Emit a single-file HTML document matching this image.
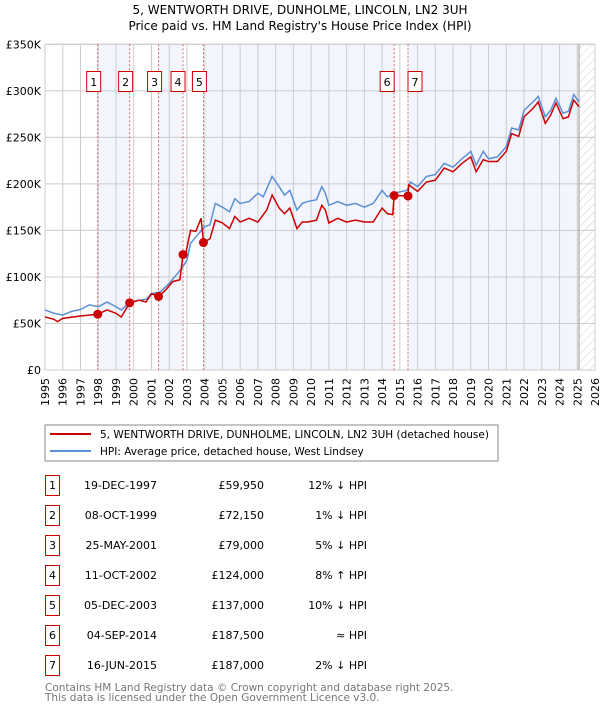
<!DOCTYPE html>
<html><head><meta charset="utf-8"><style>
body{margin:0;background:#fff;width:600px;height:710px;overflow:hidden;font-family:"DejaVu Sans","Liberation Sans",sans-serif}
svg text{font-family:"DejaVu Sans","Liberation Sans",sans-serif}
</style></head><body>
<svg id="c" width="600" height="710">
<defs><pattern id="hatch" width="6" height="6" patternUnits="userSpaceOnUse" patternTransform="rotate(45)"><line x1="0" y1="0" x2="0" y2="6" stroke="#ccc" stroke-width="1"/></pattern></defs>
<text x="300" y="14" text-anchor="middle" font-size="12">5, WENTWORTH DRIVE, DUNHOLME, LINCOLN, LN2 3UH</text>
<text x="300" y="30" text-anchor="middle" font-size="12">Price paid vs. HM Land Registry's House Price Index (HPI)</text>
<g id="plot"></g>
<rect x="45" y="425" width="453" height="36" fill="#fff" stroke="#888"/>
<line x1="50" y1="434" x2="91" y2="434" stroke="#cc0000" stroke-width="2"/>
<text x="100" y="438" font-size="10.5">5, WENTWORTH DRIVE, DUNHOLME, LINCOLN, LN2 3UH (detached house)</text>
<line x1="50" y1="451" x2="91" y2="451" stroke="#5b8fd6" stroke-width="2"/>
<text x="100" y="455" font-size="10.5">HPI: Average price, detached house, West Lindsey</text>
<g id="table"></g>
<text x="45" y="691" font-size="10.5" fill="#777">Contains HM Land Registry data © Crown copyright and database right 2025.</text>
<text x="45" y="701" font-size="10.5" fill="#777">This data is licensed under the Open Government Licence v3.0.</text>
</svg>
<script>
const yTicks=[0,50,100,150,200,250,300,350];
const yTickLabels=["£0","£50K","£100K","£150K","£200K","£250K","£300K","£350K"];
const years=[1995,1996,1997,1998,1999,2000,2001,2002,2003,2004,2005,2006,2007,2008,2009,2010,2011,2012,2013,2014,2015,2016,2017,2018,2019,2020,2021,2022,2023,2024,2025,2026];
const hpiT=[1995,1995.5,1996,1996.5,1997,1997.5,1998,1998.5,1999,1999.3,1999.8,2000.3,2000.7,2001,2001.5,2002,2002.3,2002.7,2003,2003.2,2003.5,2004,2004.3,2004.6,2005,2005.4,2005.7,2006,2006.5,2007,2007.3,2007.8,2008.2,2008.5,2008.8,2009.2,2009.5,2009.8,2010.3,2010.6,2010.8,2011,2011.5,2012,2012.5,2013,2013.5,2014,2014.3,2014.68,2015.4,2015.6,2016,2016.5,2017,2017.5,2018,2018.5,2019,2019.3,2019.7,2020,2020.5,2021,2021.3,2021.7,2022,2022.5,2022.8,2023.2,2023.5,2023.8,2024.2,2024.5,2024.8,2025.1];
const hpiV=[64.5,61,59,63,65,70,68,73,68,64.5,73,75,76,82,84,93,100,109,118,136,143,154,156,179,175,170,184,179,181,190,186,208,197,188,193,172,179,181,183,197,190,177,181,177,179,175,179,193,186,190,193,202,197,208,210,222,218,227,235,220,235,227,229,240,260,258,279,288,294,272,279,292,276,278,296,288];
const ppT=[1995,1995.5,1995.7,1996,1997,1997.5,1997.97,1998.5,1999,1999.3,1999.77,2000.3,2000.7,2001,2001.4,2001.8,2002.2,2002.6,2002.78,2002.9,2003.2,2003.5,2003.8,2003.93,2004.3,2004.6,2005,2005.4,2005.7,2006,2006.5,2007,2007.5,2007.8,2008.2,2008.5,2008.8,2009.2,2009.5,2009.8,2010.3,2010.6,2010.8,2011,2011.5,2012,2012.5,2013,2013.5,2014,2014.3,2014.6,2014.68,2015.46,2015.5,2016,2016.5,2017,2017.5,2018,2018.5,2019,2019.3,2019.7,2020,2020.5,2021,2021.3,2021.7,2022,2022.5,2022.8,2023.2,2023.5,2023.8,2024.2,2024.5,2024.8,2025.1];
const ppV=[57,54.5,52,55.5,58,59,60,64.5,61,57,72,75,73,82,79,86,95,97,124,122,150,149,163,137,141,161,158,152,165,159,163,159,172,188,174,168,174,152,159,159,161,177,172,158,163,159,161,159,159,174,168,167,187.5,187,199,192,202,204,217,213,222,229,213,226,224,224,235,254,251,272,281,288,265,274,287,270,272,290,283];
const saleT=[1997.97,1999.77,2001.4,2002.78,2003.93,2014.68,2015.46];
const saleV=[59.95,72.15,79,124,137,187.5,187];
const saleDates=["19-DEC-1997","08-OCT-1999","25-MAY-2001","11-OCT-2002","05-DEC-2003","04-SEP-2014","16-JUN-2015"];
const salePrices=["£59,950","£72,150","£79,000","£124,000","£137,000","£187,500","£187,000"];
const saleHpi=["12% ↓ HPI","1% ↓ HPI","5% ↓ HPI","8% ↑ HPI","10% ↓ HPI","≈ HPI","2% ↓ HPI"];
const dataEnd=2025.1;

const X0=45,X1=595,Y0=370,Y1=44.3;
const x=t=>X0+(t-1995)/(2026-1995)*(X1-X0);
const y=v=>Y0-v/350*(Y0-Y1);
const NS="http://www.w3.org/2000/svg";
const plot=document.getElementById('plot');
function mk(tag,attrs,parent){const e=document.createElementNS(NS,tag);for(const k in attrs)e.setAttribute(k,attrs[k]);(parent||plot).appendChild(e);return e;}

// shaded bands between alternate sales
const bands=[[saleT[0],saleT[1]],[saleT[2],saleT[3]],[saleT[4],saleT[5]],[saleT[6],dataEnd]];
bands.forEach(b=>{const r=mk('rect',{x:x(b[0]),y:Y1,width:x(b[1])-x(b[0]),height:Y0-Y1,fill:'#f2f5fd'});

});
const h=mk('rect',{x:x(dataEnd),y:Y1,width:X1-x(dataEnd),height:Y0-Y1,fill:'url(#hatch)'});


// grid
years.forEach(yr=>{const l=mk('line',{x1:x(yr),x2:x(yr),y1:Y1,y2:Y0,stroke:'#ccc','stroke-width':1});


const t=mk('text',{transform:`translate(${x(yr)+4},378) rotate(-90)`,'text-anchor':'end','font-size':11});
t.textContent=yr;

});
yTicks.forEach((v,i)=>{const l=mk('line',{x1:X0,x2:X1,y1:y(v),y2:y(v),stroke:'#ccc','stroke-width':1});


const t=mk('text',{x:41,y:y(v)+4,'text-anchor':'end','font-size':11});
t.textContent=yTickLabels[i];

});
const fr=mk('rect',{x:X0,y:Y1,width:X1-X0,height:Y0-Y1,fill:'none',stroke:'#ccc'});


const el=mk('line',{x1:x(dataEnd),x2:x(dataEnd),y1:Y1,y2:Y0,stroke:'#999','stroke-width':1});


// sale vlines + labels
saleT.forEach((t,i)=>{const l=mk('line',{x1:x(t),x2:x(t),y1:Y1,y2:Y0,stroke:'#e06666','stroke-width':1,'stroke-dasharray':'2,2'});

});
const lblX=[x(saleT[0])-4,x(saleT[1])-4,x(saleT[2])-4,x(saleT[3])-5,x(saleT[4])-4,x(saleT[5])-7,x(saleT[6])+7];
saleT.forEach((t,i)=>{const g=mk('g',{});


mk('rect',{x:lblX[i]-7,y:71.5,width:14,height:20,fill:'#fff',stroke:'#cc0000'},g);
const tx=mk('text',{x:lblX[i],y:86,'text-anchor':'middle','font-size':11},g);tx.textContent=i+1;});
// lines
const hp=mk('polyline',{points:hpiT.map((t,i)=>x(t)+','+y(hpiV[i])).join(' '),fill:'none',stroke:'#5b8fd6','stroke-width':1.5});


const pp=mk('polyline',{points:ppT.map((t,i)=>x(t)+','+y(ppV[i])).join(' '),fill:'none',stroke:'#cc0000','stroke-width':1.5});


saleT.forEach((t,i)=>{const c=mk('circle',{cx:x(t),cy:y(saleV[i]),r:4.5,fill:'#cc0000'});

});
// table
const tb=document.getElementById('table');
saleT.forEach((t,i)=>{const yy=475+i*30;const g=mk('g',{},tb);


mk('rect',{x:45.5,y:yy+0.5,width:14,height:20,fill:'#fff',stroke:'#cc0000'},g);
let a=mk('text',{x:52.5,y:yy+14,'text-anchor':'middle','font-size':11},g);a.textContent=i+1;
a=mk('text',{x:157,y:yy+14,'text-anchor':'end','font-size':11},g);a.textContent=saleDates[i];
a=mk('text',{x:264,y:yy+14,'text-anchor':'end','font-size':11},g);a.textContent=salePrices[i];
a=mk('text',{x:367,y:yy+14,'text-anchor':'end','font-size':11},g);a.textContent=saleHpi[i];});
</script>
</body></html>
